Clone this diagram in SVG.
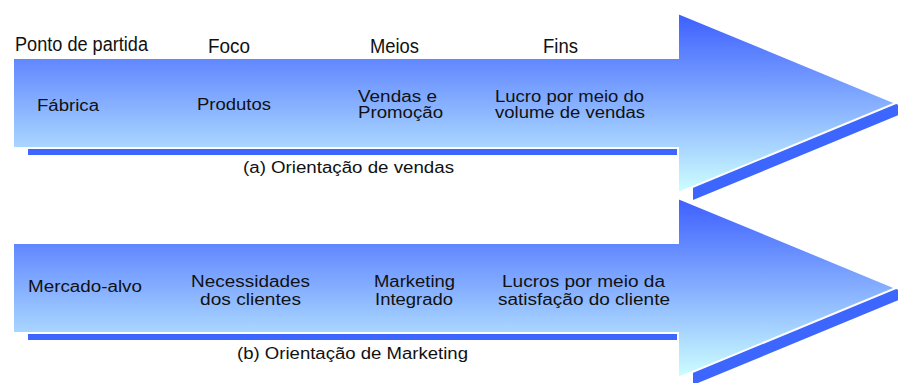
<svg xmlns="http://www.w3.org/2000/svg" width="898" height="383" viewBox="0 0 898 383">
  <defs>
    <linearGradient id="grad" x1="0" y1="0" x2="0" y2="1">
      <stop offset="0" stop-color="#3c5eff"/>
      <stop offset="1" stop-color="#ceffff"/>
    </linearGradient>
    <path id="arrowShape" d="M13,58 H678 V13 L896,103 L678,193 V148 H13 Z"/>
  </defs>
  <style>
    .shadow { fill: #3d66ff; }
    .arrow { fill: url(#grad); stroke: #ffffff; stroke-width: 2; }
    .head { font-family: "Liberation Sans", Arial, sans-serif; font-size: 20px; fill: #111111; }
    .inner { font-family: "Liberation Sans", Arial, sans-serif; font-size: 16px; fill: #111111; }
    .cap { font-family: "Liberation Sans", Arial, sans-serif; font-size: 16px; fill: #111111; }
  </style>
  <rect width="898" height="383" fill="#ffffff"/>

  <g id="headers">
    <text class="head" x="15" y="51" textLength="133" lengthAdjust="spacingAndGlyphs">Ponto de partida</text>
    <text class="head" x="208" y="53" textLength="42" lengthAdjust="spacingAndGlyphs">Foco</text>
    <text class="head" x="370" y="53" textLength="49" lengthAdjust="spacingAndGlyphs">Meios</text>
    <text class="head" x="543" y="53" textLength="35" lengthAdjust="spacingAndGlyphs">Fins</text>
  </g>

  <g id="arrow-vendas">
    <use href="#arrowShape" class="shadow" transform="translate(15,7)"/>
    <use href="#arrowShape" class="arrow"/>
    <text class="inner" x="37" y="111" textLength="62" lengthAdjust="spacingAndGlyphs">Fábrica</text>
    <text class="inner" x="197" y="110" textLength="74" lengthAdjust="spacingAndGlyphs">Produtos</text>
    <text class="inner" x="358" y="102" textLength="79" lengthAdjust="spacingAndGlyphs">Vendas e</text>
    <text class="inner" x="358" y="118" textLength="85" lengthAdjust="spacingAndGlyphs">Promoção</text>
    <text class="inner" x="495" y="102" textLength="149" lengthAdjust="spacingAndGlyphs">Lucro por meio do</text>
    <text class="inner" x="495" y="118" textLength="150" lengthAdjust="spacingAndGlyphs">volume de vendas</text>
    <text class="cap" x="243" y="173" textLength="211" lengthAdjust="spacingAndGlyphs">(a) Orientação de vendas</text>
  </g>

  <g id="arrow-marketing">
    <use href="#arrowShape" class="shadow" transform="translate(15,192)"/>
    <use href="#arrowShape" class="arrow" transform="translate(0,185)"/>
    <text class="inner" x="28" y="292" textLength="114" lengthAdjust="spacingAndGlyphs">Mercado-alvo</text>
    <text class="inner" x="191" y="287" textLength="119" lengthAdjust="spacingAndGlyphs">Necessidades</text>
    <text class="inner" x="200" y="305" textLength="101" lengthAdjust="spacingAndGlyphs">dos clientes</text>
    <text class="inner" x="374" y="287" textLength="81" lengthAdjust="spacingAndGlyphs">Marketing</text>
    <text class="inner" x="375" y="305" textLength="78" lengthAdjust="spacingAndGlyphs">Integrado</text>
    <text class="inner" x="502" y="287" textLength="163" lengthAdjust="spacingAndGlyphs">Lucros por meio da</text>
    <text class="inner" x="498" y="305" textLength="172" lengthAdjust="spacingAndGlyphs">satisfação do cliente</text>
    <text class="cap" x="237" y="359" textLength="231" lengthAdjust="spacingAndGlyphs">(b) Orientação de Marketing</text>
  </g>
</svg>
